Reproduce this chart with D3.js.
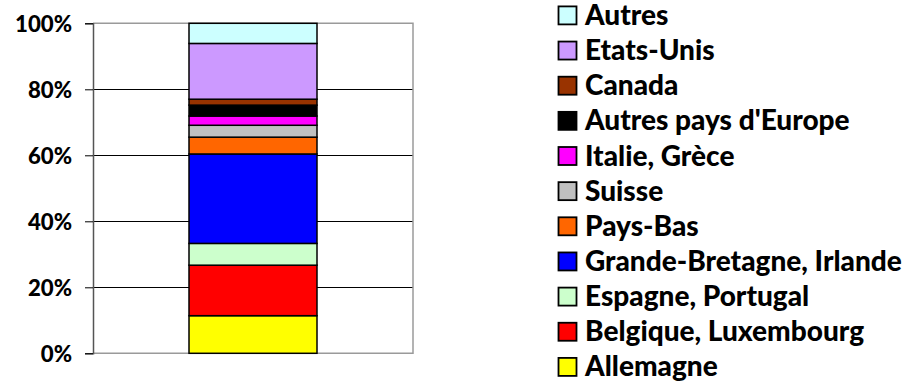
<!DOCTYPE html>
<html><head><meta charset="utf-8">
<script src="https://cdn.jsdelivr.net/npm/d3@7"></script>
<style>body{margin:0;background:#fff}svg{display:block}</style>
</head><body>
<svg id="c" width="905" height="382"></svg>
<script>
const categories = ["Total"];
const seriesNames = ["Allemagne","Belgique, Luxembourg","Espagne, Portugal","Grande-Bretagne, Irlande","Pays-Bas","Suisse","Italie, Grèce","Autres pays d'Europe","Canada","Etats-Unis","Autres"];
const seriesValues = [11.4,15.3,6.6,27.1,5.1,3.6,2.8,3.3,1.8,16.9,6.1];
const seriesColors = ["#FFFF00","#FF0000","#CCFFCC","#0000FF","#FF6600","#C0C0C0","#FF00FF","#000000","#993300","#CC99FF","#CCFFFF"];
const tickValues = [0,0.2,0.4,0.6,0.8,1];
const tickLabels = ["0%","20%","40%","60%","80%","100%"];

const svg = d3.select("#c");
const FONT = "Lato, 'DejaVu Sans', sans-serif";
const WEIGHT = 900;
const L = 93, R = 413, T = 23.3, B = 353.3;

const y = d3.scaleLinear().domain([0,1]).range([B,T]);
const x = d3.scaleBand().domain(categories).range([L,R]).paddingInner(0).paddingOuter(0.75);

const total = d3.sum(seriesValues);
const row = {}; seriesNames.forEach((n,i)=>row[n]=seriesValues[i]/total);
const stack = d3.stack().keys(seriesNames)([row]);

// gridlines
svg.append("g").selectAll("line").data(tickValues.filter(v=>v>0&&v<1)).join("line")
  .attr("x1",L).attr("x2",R).attr("y1",d=>Math.round(y(d))+0.5).attr("y2",d=>Math.round(y(d))+0.5)
  .attr("stroke","#000").attr("stroke-width",1);

// frame (gray)
svg.append("path").attr("d",`M${L},${T}H${R}V${B}H${L}`).attr("fill","none").attr("stroke","#9a9a9a").attr("stroke-width",1.5);

// bars
svg.append("g").selectAll("rect").data(stack).join("rect")
  .attr("x",x("Total")).attr("width",x.bandwidth())
  .attr("y",d=>y(d[0][1])).attr("height",d=>y(d[0][0])-y(d[0][1]))
  .attr("fill",(d,i)=>seriesColors[i]).attr("stroke","#000").attr("stroke-width",1.5);

// y axis
const axis = d3.axisLeft(y).tickValues(tickValues).tickFormat((d,i)=>tickLabels[i]).tickSize(8).tickPadding(12);
const ga = svg.append("g").attr("transform",`translate(${L},0)`).call(axis);
ga.select(".domain").attr("stroke","#555").attr("stroke-width",1.5);
ga.selectAll(".tick line").attr("stroke","#000");
ga.selectAll(".tick text").attr("font-family",FONT).attr("font-weight",WEIGHT).attr("font-size",19).attr("fill","#000").attr("dy",null).attr("dominant-baseline",null).attr("y",7);
// fit "100%" width to 57px
{
  const t = ga.selectAll(".tick text").filter((d,i)=>i===5).node();
  const w = t.getComputedTextLength();
  const fs = 19*57/w;
  ga.selectAll(".tick text").attr("font-size",fs).attr("y",fs*0.36).attr("x",-(L-72));
}

// legend
const lg = svg.append("g");
const order = seriesNames.map((n,i)=>i).reverse();
const items = lg.selectAll("g").data(order).join("g")
  .attr("transform",(d,k)=>`translate(558,${14.9+35.15*k})`);
items.append("rect").attr("x",0.5).attr("y",-8.5).attr("width",18).attr("height",18)
  .attr("fill",d=>seriesColors[d]).attr("stroke","#000").attr("stroke-width",1.8);
const texts = items.append("text").attr("x",27).text(d=>seriesNames[d])
  .attr("font-family",FONT).attr("font-weight",WEIGHT).attr("font-size",20).attr("fill","#000");
{
  const idx = order.indexOf(3);
  const w = texts.nodes()[idx].getComputedTextLength();
  const fs = 20*317/w;
  texts.attr("font-size",fs).attr("y",fs*0.36);
}
</script>
</body></html>
